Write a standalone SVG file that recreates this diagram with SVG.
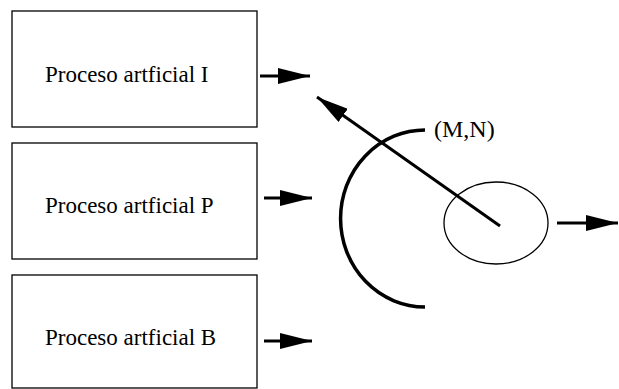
<svg xmlns="http://www.w3.org/2000/svg" width="619" height="389" viewBox="0 0 619 389">
<style>
.box{fill:#fff;stroke:#000;stroke-width:1.3}
.lbl{font-family:"Liberation Serif","Times New Roman",serif;font-size:23px;fill:#000}
.con{stroke:#000;stroke-width:3;fill:none}
</style>
<defs>
<marker id="ahl" markerWidth="32" markerHeight="16" refX="32" refY="8" orient="auto" markerUnits="userSpaceOnUse" viewBox="0 0 32 16">
<path d="M0,0 L32,8 L0,16 Z" fill="#000"/>
</marker>
</defs>
<rect width="619" height="389" fill="#fff"/>
<g id="node-i"><rect class="box" x="12" y="11" width="245" height="116"/><text class="lbl" x="45" y="82">Proceso artficial I</text></g>
<g id="node-p"><rect class="box" x="12" y="143" width="245" height="116"/><text class="lbl" x="45" y="213">Proceso artficial P</text></g>
<g id="node-b"><rect class="box" x="12" y="275" width="245" height="113"/><text class="lbl" x="45" y="345">Proceso artficial B</text></g>
<g id="node-e"><ellipse cx="496" cy="223" rx="52" ry="41" fill="none" stroke="#000" stroke-width="1.3"/></g>
<g id="node-arc"><path d="M425,130 A84 88 0 0 0 425,307" fill="none" stroke="#000" stroke-width="3.5"/></g>
<g id="label-mn"><text class="lbl" x="434" y="137" style="font-size:24px">(M,N)</text></g>
<g id="connectors">
<line class="con" x1="260" y1="76" x2="310" y2="76" marker-end="url(#ahl)"/>
<line class="con" x1="264" y1="198" x2="312" y2="198" marker-end="url(#ahl)"/>
<line class="con" x1="264" y1="341" x2="312" y2="341" marker-end="url(#ahl)"/>
<line class="con" x1="500" y1="226" x2="317" y2="97" marker-end="url(#ahl)"/>
<line class="con" x1="557" y1="223" x2="618" y2="223" marker-end="url(#ahl)"/>
</g>
</svg>
